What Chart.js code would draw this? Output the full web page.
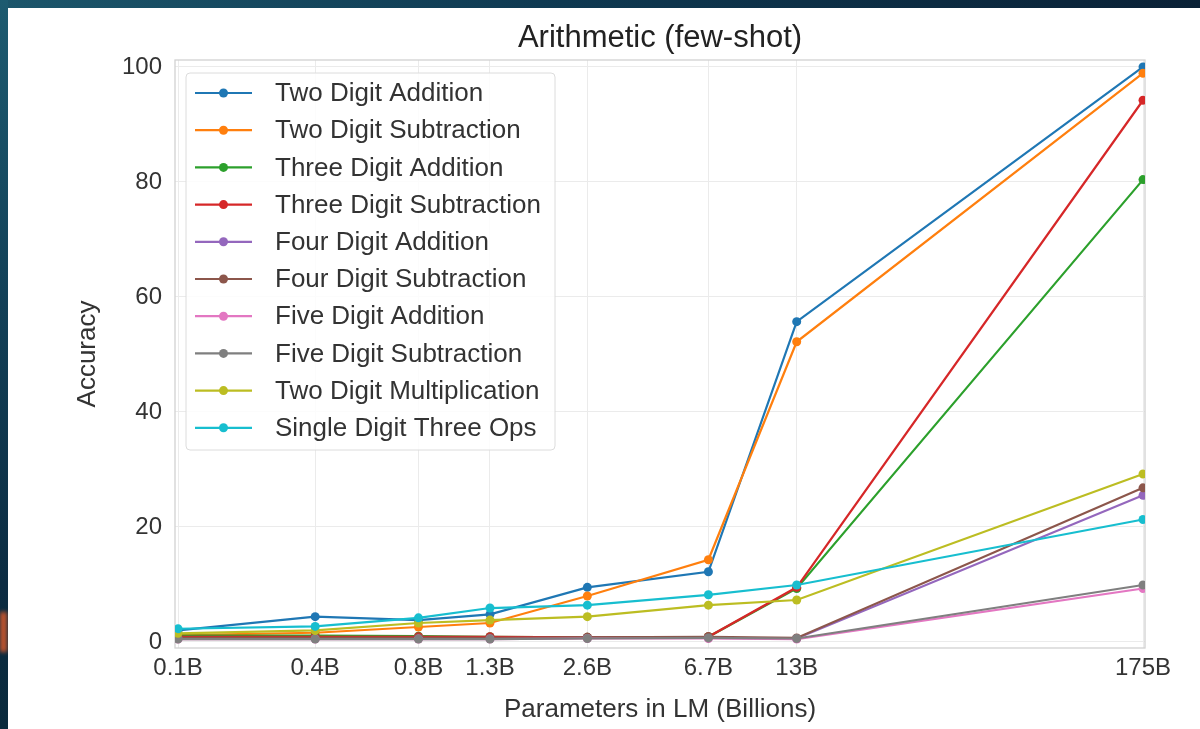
<!DOCTYPE html>
<html>
<head>
<meta charset="utf-8">
<title>Arithmetic (few-shot)</title>
<script src="https://cdn.jsdelivr.net/npm/chart.js@4.4.1/dist/chart.umd.min.js"></script>
<style>
    html, body { margin: 0; padding: 0; width: 1200px; height: 729px; overflow: hidden; }
    body { position: relative; background: linear-gradient(90deg, #1c566b 0%, #0f3a52 45%, #0a2136 100%); }
    #edge { position: absolute; left: 0; top: 0; width: 8px; height: 729px;
            background: linear-gradient(180deg, #1d5b70 0%, #134158 40%, #0c2c42 80%, #0a2a3c 100%); }
    #blob { position: absolute; left: 0; top: 612px; width: 7px; height: 40px; background: #c4552e; filter: blur(2px); }
    #panel { position: absolute; left: 8px; top: 8px; width: 1192px; height: 721px; background: #fff; }
</style>
</head>
<body>
<div id="edge"></div>
<div id="blob"></div>
<div id="panel"><canvas id="myChart" width="1192" height="721"></canvas></div>
<script>
/*---------------------------------------------------------------*/
/*----------------------------- data ----------------------------*/
/*---------------------------------------------------------------*/
const sizes = [0.125, 0.35, 0.76, 1.3, 2.7, 6.7, 13, 175];
const sizeLabels = ['0.1B', '0.4B', '0.8B', '1.3B', '2.6B', '6.7B', '13B', '175B'];
const yTicks = [0, 20, 40, 60, 80, 100];

const twoDigitAdd   = [2.0, 4.4, 3.8, 4.8, 9.5, 12.2, 55.7, 100.0];
const twoDigitSub   = [1.2, 1.6, 2.6, 3.3, 8.0, 14.3, 52.2, 98.9];
const threeDigitAdd = [1.1, 1.1, 1.0, 0.9, 0.8, 0.9, 9.3, 80.4];
const threeDigitSub = [0.9, 0.9, 0.9, 0.9, 0.8, 0.9, 9.5, 94.2];
const fourDigitAdd  = [0.6, 0.6, 0.6, 0.6, 0.7, 0.7, 0.6, 25.5];
const fourDigitSub  = [0.7, 0.7, 0.7, 0.7, 0.8, 0.9, 0.7, 26.8];
const fiveDigitAdd  = [0.5, 0.5, 0.5, 0.5, 0.6, 0.6, 0.5, 9.3];
const fiveDigitSub  = [0.5, 0.5, 0.5, 0.5, 0.6, 0.7, 0.6, 9.9];
const twoDigitMul   = [1.5, 2.0, 3.3, 3.8, 4.4, 6.4, 7.3, 29.2];
const singleThreeOp = [2.3, 2.7, 4.2, 5.9, 6.4, 8.2, 9.9, 21.3];

const seriesNames = ['Two Digit Addition', 'Two Digit Subtraction', 'Three Digit Addition',
    'Three Digit Subtraction', 'Four Digit Addition', 'Four Digit Subtraction',
    'Five Digit Addition', 'Five Digit Subtraction', 'Two Digit Multiplication',
    'Single Digit Three Ops'];
const seriesValues = [twoDigitAdd, twoDigitSub, threeDigitAdd, threeDigitSub, fourDigitAdd,
    fourDigitSub, fiveDigitAdd, fiveDigitSub, twoDigitMul, singleThreeOp];
const seriesColors = ['#1f77b4', '#ff7f0e', '#2ca02c', '#d62728', '#9467bd',
    '#8c564b', '#e377c2', '#7f7f7f', '#bcbd22', '#17becf'];

/*---------------------------------------------------------------*/
/*---------------------------- chart ----------------------------*/
/*---------------------------------------------------------------*/
const FONT = '"Liberation Sans", Arial, sans-serif';
const TEXT = '#333333';

// frame around plot + legend with line/dot markers (matplotlib style)
const framePlugin = {
    id: 'frame',
    beforeDatasetsDraw(chart) {
        const { ctx, chartArea: a } = chart;
        ctx.save();
        ctx.strokeStyle = '#d2d2d2';
        ctx.lineWidth = 1.3;
        ctx.strokeRect(a.left, a.top, a.right - a.left, a.bottom - a.top);
        ctx.restore();
    },
    afterDatasetsDraw(chart) {
        const { ctx, chartArea: a } = chart;
        const bx = a.left + 11, by = a.top + 13, bw = 369, bh = 377;
        ctx.save();
        ctx.beginPath();
        ctx.roundRect(bx, by, bw, bh, 4);
        ctx.fillStyle = 'rgba(255,255,255,0.85)';
        ctx.fill();
        ctx.strokeStyle = '#dcdcdc';
        ctx.lineWidth = 1;
        ctx.stroke();
        ctx.font = '26px ' + FONT;
        ctx.textBaseline = 'middle';
        chart.data.datasets.forEach((ds, i) => {
            const y = by + 20 + 37.2 * i;
            ctx.strokeStyle = ds.borderColor;
            ctx.lineWidth = 2.2;
            ctx.beginPath();
            ctx.moveTo(bx + 9, y);
            ctx.lineTo(bx + 66, y);
            ctx.stroke();
            ctx.fillStyle = ds.borderColor;
            ctx.beginPath();
            ctx.arc(bx + 37.5, y, 4.5, 0, Math.PI * 2);
            ctx.fill();
            ctx.fillStyle = TEXT;
            ctx.fillText(ds.label, bx + 89, y + 1);
        });
        ctx.restore();
    }
};

const datasets = seriesNames.map((name, i) => ({
    label: name,
    data: sizes.map((s, j) => ({ x: s, y: seriesValues[i][j] })),
    borderColor: seriesColors[i],
    backgroundColor: seriesColors[i],
    pointBackgroundColor: seriesColors[i],
    pointBorderWidth: 0,
    pointRadius: 4.5,
    borderWidth: 2.2,
    order: seriesNames.length - i // later series on top
}));

const config = {
    type: 'line',
    data: { datasets: datasets },
    options: {
        responsive: false,
        animation: false,
        devicePixelRatio: 1,
        layout: { padding: { left: 0, right: 55, top: 0, bottom: 0 } },
        plugins: {
            legend: { display: false },
            tooltip: { enabled: false },
            title: {
                display: true,
                text: 'Arithmetic (few-shot)',
                fullSize: false,
                color: '#222222',
                font: { family: FONT, size: 31, weight: 'normal' },
                padding: { top: 12, bottom: 2.8 }
            }
        },
        scales: {
            x: {
                type: 'logarithmic',
                min: 0.1222,
                max: 177.6,
                afterBuildTicks: s => { s.ticks = sizes.map(v => ({ value: v })); },
                afterFit: s => { s.height = 81; },
                ticks: {
                    callback: (v, i) => sizeLabels[i],
                    autoSkip: false,
                    maxRotation: 0,
                    padding: 6,
                    color: TEXT,
                    font: { family: FONT, size: 24 }
                },
                grid: { color: '#ebebeb', drawTicks: false },
                border: { display: false },
                title: {
                    display: true,
                    text: 'Parameters in LM (Billions)',
                    color: TEXT,
                    font: { family: FONT, size: 26 },
                    padding: { top: 0, bottom: 3.4 }
                }
            },
            y: {
                min: -1.05,
                max: 101.2,
                afterBuildTicks: s => { s.ticks = yTicks.map(v => ({ value: v })); },
                afterFit: s => { s.width = 167; },
                ticks: {
                    padding: 13,
                    color: TEXT,
                    font: { family: FONT, size: 24 }
                },
                grid: { color: '#ebebeb', drawTicks: false },
                border: { display: false },
                title: {
                    display: true,
                    text: 'Accuracy',
                    color: TEXT,
                    font: { family: FONT, size: 26 },
                    padding: { top: 64.4, bottom: 0 }
                }
            }
        }
    },
    plugins: [framePlugin]
};
new Chart(document.getElementById('myChart'), config);
</script>
</body>
</html>
